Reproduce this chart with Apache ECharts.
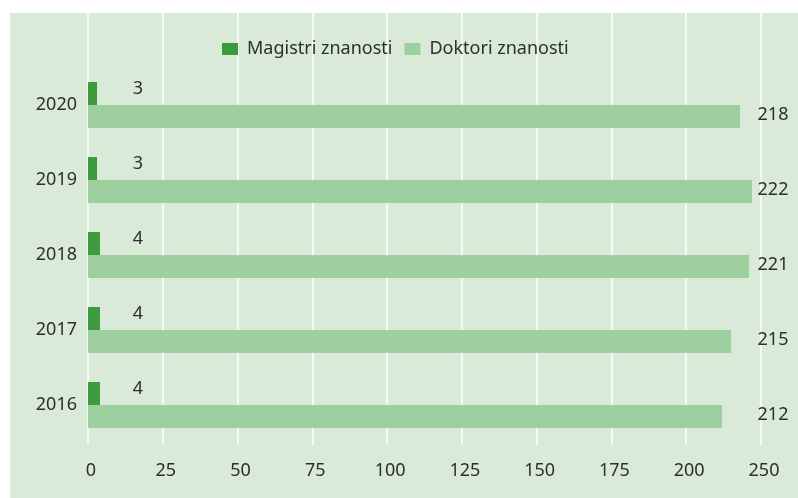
<!DOCTYPE html>
<html>
<head>
<meta charset="utf-8">
<script src="https://cdn.jsdelivr.net/npm/echarts@6/dist/echarts.min.js"></script>
<style>
  html, body { margin: 0; padding: 0; background: #fff; }
  #main { width: 798px; height: 498px; }
</style>
</head>
<body>
<div id="main"></div>
<script>
// podaci
var years = ['2016', '2017', '2018', '2019', '2020'];
var magistri = [4, 4, 4, 3, 3];
var doktori = [212, 215, 221, 222, 218];
var xTickLabels = ['0', '25', '50', '75', '100', '125', '150', '175', '200', '250'];

var txt = '#2e2e2e';
var font = 'Noto Sans';

var myChart = echarts.init(document.getElementById('main'));

var option = {
  backgroundColor: '#ffffff',
  textStyle: { fontFamily: font },
  graphic: [{
    type: 'rect',
    z: -10,
    shape: { x: 10, y: 13, width: 788, height: 485 },
    style: { fill: '#d9ead8' }
  }],
  legend: {
    top: 35,
    left: 217,
    itemWidth: 16,
    itemHeight: 12,
    itemGap: 12,
    icon: 'rect',
    textStyle: { fontSize: 18, color: txt, fontFamily: font, padding: [0, 0, 0, 4] },
    data: ['Magistri znanosti', 'Doktori znanosti']
  },
  grid: [
    { left: 88, right: 37, top: 67.5, bottom: 55.5 },
    { left: 88, right: 37, top: 13, bottom: 53 }
  ],
  xAxis: [{
    type: 'value',
    gridIndex: 0,
    min: 0,
    max: 225,
    interval: 25,
    axisLine: { show: false },
    axisTick: { show: false },
    splitLine: { show: false },
    axisLabel: {
      fontSize: 18,
      color: txt,
      margin: 19,
      padding: [0, 0, 0, 6],
      formatter: function (v) { return xTickLabels[Math.round(v / 25)]; }
    }
  }, {
    type: 'value',
    gridIndex: 1,
    min: 0,
    max: 225,
    interval: 25,
    axisLine: { show: false },
    axisTick: { show: false },
    axisLabel: { show: false },
    splitLine: { show: true, lineStyle: { color: '#ffffff', width: 1.5 } }
  }],
  yAxis: [{
    type: 'category',
    gridIndex: 0,
    data: years,
    axisLine: { show: false },
    axisTick: { show: false },
    axisLabel: { fontSize: 18, color: txt, margin: 11 }
  }, {
    type: 'value',
    gridIndex: 1,
    min: 0,
    max: 1,
    show: false,
    splitLine: { show: false }
  }],
  series: [
    {
      name: 'Magistri znanosti',
      type: 'bar',
      xAxisIndex: 0,
      yAxisIndex: 0,
      data: magistri,
      barWidth: 23,
      barGap: '0%',
      itemStyle: { color: '#3d9b3d' },
      label: {
        show: true,
        position: [50, 7],
        align: 'center',
        verticalAlign: 'middle',
        fontSize: 18,
        color: txt
      }
    },
    {
      name: 'Doktori znanosti',
      type: 'bar',
      xAxisIndex: 0,
      yAxisIndex: 0,
      data: doktori,
      barWidth: 23,
      barGap: '0%',
      itemStyle: { color: '#9ecf9e' },
      label: {
        show: true,
        position: [685, 10],
        align: 'center',
        verticalAlign: 'middle',
        fontSize: 18,
        color: txt
      }
    }
  ]
};

myChart.setOption(option);
</script>
</body>
</html>
